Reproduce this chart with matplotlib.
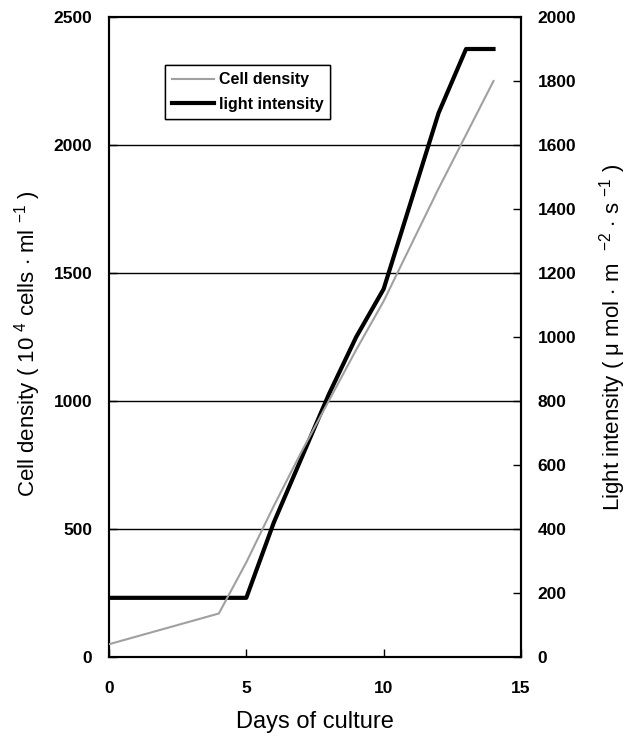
import matplotlib
matplotlib.use("Agg")
import matplotlib.pyplot as plt

plt.rcParams['font.family'] = ['Liberation Sans', 'DejaVu Sans']
plt.rcParams['mathtext.fontset'] = 'custom'
plt.rcParams['mathtext.rm'] = 'Liberation Sans'
plt.rcParams['mathtext.it'] = 'Liberation Sans:italic'
plt.rcParams['mathtext.bf'] = 'Liberation Sans:bold'

# Data
cell_days = [0, 4, 5, 6, 7, 8, 9, 10, 11, 12, 13, 14]
cell_density = [50, 170, 370, 590, 800, 1000, 1200, 1390, 1610, 1830, 2040, 2250]
light_days = [0, 5, 6, 7, 8, 9, 10, 11, 12, 13, 14]
light_intensity = [185, 185, 420, 620, 820, 1000, 1150, 1425, 1700, 1900, 1900]

x_ticks = [0, 5, 10, 15]
left_ticks = [0, 500, 1000, 1500, 2000, 2500]
right_ticks = [0, 200, 400, 600, 800, 1000, 1200, 1400, 1600, 1800, 2000]

fig = plt.figure(figsize=(6.27, 7.36), dpi=100)
ax = fig.add_axes([0.1738, 0.1073, 0.6571, 0.8696])
ax2 = ax.twinx()

for y in left_ticks[1:-1]:
    ax.axhline(y, color='black', lw=1.0, zorder=1)

l1, = ax.plot(cell_days, cell_density, color='#a0a0a0', lw=1.5, zorder=3,
              label='Cell density')
l2, = ax2.plot(light_days, light_intensity, color='black', lw=3.0,
               solid_joinstyle='round', label='light intensity', zorder=3)

ax.set_xlim(0, 15)
ax.set_ylim(0, 2500)
ax2.set_ylim(0, 2000)
ax.set_xticks(x_ticks)
ax.set_yticks(left_ticks)
ax2.set_yticks(right_ticks)

fs = 12.5
ax.tick_params(axis='both', direction='in', length=6, width=1, labelsize=fs, pad=12)
ax.tick_params(axis='x', pad=17)
ax2.tick_params(axis='y', direction='in', length=6, width=1, labelsize=fs, pad=12)
for lab in ax.get_xticklabels() + ax.get_yticklabels() + ax2.get_yticklabels():
    lab.set_fontweight('bold')
for a in (ax, ax2):
    for s in a.spines.values():
        s.set_linewidth(1.5)

ax.set_xlabel('Days of culture', fontsize=17, labelpad=11)
ax.set_ylabel('Cell density ( 10 $^{4}$ cells $\\cdot$ ml $^{-1}$ )', fontsize=16)
ax.yaxis.set_label_coords(-0.16, 0.49)
ax2.set_ylabel('Light intensity ( μ mol $\\cdot$ m  $^{-2}$ $\\cdot$ s $^{-1}$ )', fontsize=16)
ax2.yaxis.set_label_coords(1.185, 0.5)

leg = ax.legend(handles=[l1, l2], loc='upper left', bbox_to_anchor=(0.136, 0.925),
                prop={'size': 11.5, 'weight': 'bold'}, frameon=True, fancybox=False,
                framealpha=1, edgecolor='black', handlelength=2.6, handletextpad=0.3,
                borderpad=0.45, labelspacing=0.6, borderaxespad=0)
leg.get_frame().set_linewidth(1.0)
leg.set_zorder(5)
ax.set_zorder(ax2.get_zorder() + 1)
ax.patch.set_visible(False)
ax.add_artist(leg)

fig.savefig('out.png', dpi=100)
